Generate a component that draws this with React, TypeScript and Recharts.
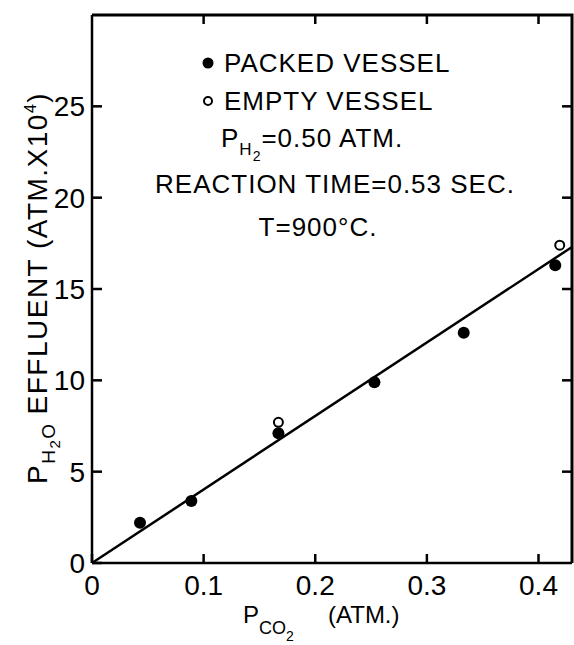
import React from 'react';
import { ScatterChart, Scatter, XAxis, YAxis, Customized } from 'recharts';

const xTicks = [0, 0.1, 0.2, 0.3, 0.4];
const yTicks = [0, 5, 10, 15, 20, 25];
const packedPCO2 = [0.043, 0.089, 0.167, 0.253, 0.333, 0.415];
const packedPH2O = [2.2, 3.4, 7.1, 9.9, 12.6, 16.3];
const emptyPCO2 = [0.167, 0.419];
const emptyPH2O = [7.7, 17.4];
const fitPCO2 = [0, 0.43];
const fitPH2O = [0, 17.3];

const X_MAX = 0.43;
const Y_MAX = 30;

const toPts = (xs: number[], ys: number[]) => xs.map((x, i) => ({ x, y: ys[i] }));
const packedData = toPts(packedPCO2, packedPH2O);
const emptyData = toPts(emptyPCO2, emptyPH2O);
const fitData = toPts(fitPCO2, fitPH2O);

const CHART_W = 574;
const CHART_H = 645;
const MARGIN = { top: 15, right: 2, left: 32, bottom: 42 };
const Y_AXIS_W = 60;
const X_AXIS_H = 40;
// plot box implied by the margins above
const PL = MARGIN.left + Y_AXIS_W;
const PT = MARGIN.top;
const PR = CHART_W - MARGIN.right;
const PB = CHART_H - MARGIN.bottom - X_AXIS_H;

const FONT = '"Liberation Sans", Arial, sans-serif';
const INK = '#000';

const FilledDot = (p: any) => <circle cx={p.cx} cy={p.cy} r={6} fill={INK} />;
const OpenDot = (p: any) => <circle cx={p.cx} cy={p.cy} r={4.5} fill="#fff" stroke={INK} strokeWidth={2} />;
const NoDot = () => <g />;

const Frame = () => {
  const sx = (v: number) => PL + (v / X_MAX) * (PR - PL);
  const sy = (v: number) => PB - (v / Y_MAX) * (PB - PT);
  return (
    <g>
      <path d={`M${PL},${PT} L${PR},${PT} L${PR},${PB}`} stroke={INK} strokeWidth={3} fill="none" />
      {xTicks.filter((t) => t > 0).map((t) => (
        <path key={'t' + t} d={`M${sx(t)},${PT} L${sx(t)},${PT + 9}`} stroke={INK} strokeWidth={2.5} />
      ))}
      {yTicks.filter((t) => t > 0).map((t) => (
        <path key={'r' + t} d={`M${PR},${sy(t)} L${PR - 10},${sy(t)}`} stroke={INK} strokeWidth={2.5} />
      ))}
    </g>
  );
};

const Annotations = () => (
  <g fontFamily={FONT} fill={INK}>
    <circle cx={208} cy={63} r={5.5} fill={INK} />
    <text x={224} y={72} fontSize={26} letterSpacing={1}>PACKED VESSEL</text>
    <circle cx={208} cy={101} r={4} fill="#fff" stroke={INK} strokeWidth={2} />
    <text x={224} y={110} fontSize={26} letterSpacing={1}>EMPTY VESSEL</text>
    <text x={221} y={147} fontSize={26} letterSpacing={1}>
      P<tspan fontSize={17} dy={8}>H</tspan>
      <tspan fontSize={14} dy={6}>2</tspan>
      <tspan fontSize={26} dy={-14}>=0.50 ATM.</tspan>
    </text>
    <text x={335} y={193} fontSize={26} textAnchor="middle" letterSpacing={1}>REACTION TIME=0.53 SEC.</text>
    <text x={318} y={236} fontSize={26} textAnchor="middle" letterSpacing={1}>T=900°C.</text>

    <text x={243} y={623} fontSize={24}>
      P<tspan fontSize={18} dy={11}>CO</tspan>
      <tspan fontSize={14} dy={7}>2</tspan>
      <tspan fontSize={24} x={328} y={623}>(ATM.)</tspan>
    </text>

    <text x={47} y={484} fontSize={28} letterSpacing={1.5} transform="rotate(-90 47 484)">
      P<tspan fontSize={19} dy={8}>H</tspan>
      <tspan fontSize={15} dy={5}>2</tspan>
      <tspan fontSize={19} dy={-5}>O</tspan>
      <tspan fontSize={28} dy={-8} dx={8}>EFFLUENT (ATM.X10</tspan>
      <tspan fontSize={16} dy={-11}>4</tspan>
      <tspan fontSize={28} dy={11}>)</tspan>
    </text>
  </g>
);

export default function App() {
  const axisStyle = { stroke: INK, strokeWidth: 2.5 };
  const tickFont = { fill: INK, fontSize: 28, fontFamily: FONT };
  return (
    <div style={{ position: 'absolute', left: 0, top: 0, width: CHART_W, height: CHART_H, background: '#fff' }}>
      <ScatterChart width={CHART_W} height={CHART_H} margin={MARGIN}>
        <XAxis
          type="number"
          dataKey="x"
          domain={[0, X_MAX]}
          ticks={xTicks}
          height={X_AXIS_H}
          axisLine={axisStyle}
          tickLine={axisStyle}
          tickSize={-9}
          tickMargin={21}
          tick={tickFont}
          tickFormatter={(v: number) => (v === 0 ? '0' : v.toFixed(1))}
        />
        <YAxis
          type="number"
          dataKey="y"
          domain={[0, Y_MAX]}
          ticks={yTicks}
          width={Y_AXIS_W}
          axisLine={axisStyle}
          tickLine={axisStyle}
          tickSize={-10}
          tickMargin={17}
          tick={tickFont}
        />
        <Scatter
          data={fitData}
          line={{ stroke: INK, strokeWidth: 2.5 }}
          shape={NoDot}
          isAnimationActive={false}
        />
        <Scatter data={packedData} shape={FilledDot} isAnimationActive={false} />
        <Scatter data={emptyData} shape={OpenDot} isAnimationActive={false} />
        <Customized component={Annotations} />
      </ScatterChart>
      <svg
        width={CHART_W}
        height={CHART_H}
        style={{ position: 'absolute', left: 0, top: 0, pointerEvents: 'none' }}
      >
        <Frame />
      </svg>
    </div>
  );
}
